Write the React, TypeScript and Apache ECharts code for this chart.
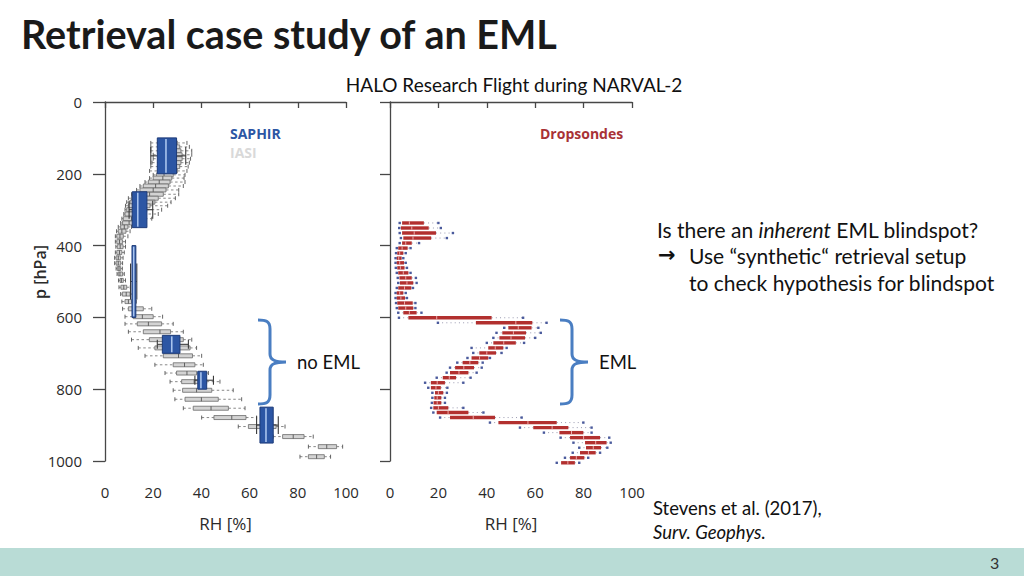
import React, { useEffect, useRef } from "react";
import * as echarts from "echarts";

// ---------- data ----------
const pressureTicks = [0, 200, 400, 600, 800, 1000];
const rhTicks = [0, 20, 40, 60, 80, 100];

// IASI (grey): [pressure hPa, whiskerLow, q1, median, q3, whiskerHigh] (RH %)
const iasiRows: number[][] = [
  [114, 19, 22, 26, 30, 34],
  [125, 19, 23, 27, 31, 35],
  [136, 19, 23, 27, 31.5, 36],
  [147, 20, 23.5, 27.5, 32, 36],
  [158, 20, 23.5, 27.5, 32, 35.5],
  [169, 19.5, 23, 27, 31.5, 35],
  [180, 19, 22.5, 26.5, 31, 34.5],
  [192, 18.5, 22, 26, 30, 34],
  [203, 20, 21.4, 24.5, 28.3, 33.2],
  [212, 18.5, 20, 24, 27.7, 32.8],
  [223, 16.6, 18, 22.5, 27, 33.2],
  [234, 14.5, 15.9, 21, 26.3, 32.5],
  [245, 13.1, 14.5, 20, 25.3, 30.6],
  [257, 11, 12.4, 18.5, 24.2, 30.6],
  [268, 9.7, 11, 16.5, 22.1, 29.2],
  [279, 9, 10.4, 15.5, 20.7, 27.4],
  [289, 8.5, 9.7, 14, 18.7, 26],
  [300, 8.3, 9, 13, 17.3, 23.5],
  [312, 7.8, 8.3, 12, 16, 22.1],
  [325, 7, 7.6, 11, 14.5, 19.4],
  [337, 6.5, 7.3, 10, 13.1, 16.6],
  [348, 5.5, 6.5, 8, 9.5, 11],
  [360, 4.8, 5.5, 7, 8.7, 10.4],
  [374, 4.3, 4.9, 6.2, 7.6, 9.5],
  [389, 4.3, 4.9, 6, 7.3, 8.5],
  [403, 4.5, 5.1, 6.3, 7.5, 8.5],
  [419, 4.3, 4.9, 6, 7, 8],
  [434, 4, 4.6, 5.5, 6.5, 7.5],
  [449, 4, 4.6, 5.5, 6.5, 7.3],
  [464, 4.6, 5.1, 5.8, 6.5, 7.2],
  [479, 5, 5.5, 6.2, 7.3, 8],
  [497, 5.6, 6.2, 6.8, 7.6, 8.5],
  [516, 5.8, 6.6, 7.8, 9, 10.5],
  [535, 6.5, 7.2, 8.8, 10.4, 12],
  [556, 7, 8.3, 9.7, 11, 13],
  [576, 7.3, 9.7, 12.5, 15.9, 19.4],
  [598, 8.3, 11.7, 15.5, 20, 23.9],
  [618, 8.3, 13.4, 18, 23.5, 28.3],
  [640, 9.7, 15.9, 22.8, 27.2, 32.5],
  [662, 11, 18.4, 25, 32.5, 36],
  [685, 13.8, 20.7, 28, 35.3, 38],
  [707, 16.6, 24.2, 30.5, 36.3, 40.1],
  [732, 20.7, 28.3, 33, 37.3, 40.8],
  [755, 24.9, 29.7, 34, 38, 42.9],
  [779, 27, 31.8, 37, 42.2, 47.7],
  [803, 28.3, 32.2, 38, 44.3, 53.2],
  [828, 29, 33.2, 40, 47, 56.7],
  [853, 32.5, 36.6, 44, 51.2, 58.1],
  [879, 40.1, 45.2, 52.6, 58.5, 62.9],
  [904, 55.3, 59.5, 65, 71, 74.7],
  [932, 69.8, 73.7, 78.1, 82.6, 86.4],
  [960, 84.4, 88.5, 92, 96.1, 98.6],
  [988, 80.9, 84.4, 87.8, 91, 93.6],
];

// SAPHIR (blue): [layer top hPa, layer bottom hPa, whiskerLow, q1, median, q3, whiskerHigh]
const saphirRows: number[][] = [
  [100, 200, 19, 21.7, 25.3, 29.7, 33.5],
  [250, 350, 10, 11.3, 13.6, 17.4, 19.8],
  [400, 600, 10.6, 11.2, 11.9, 12.8, 13.2],
  [650, 700, 21.7, 23.8, 27.7, 31.1, 34.6],
  [750, 800, 37.3, 38.5, 39.8, 42.2, 45],
  [850, 950, 62.9, 64.3, 66.8, 69.8, 71.9],
];

// Dropsondes (red): [pressure hPa, whiskerLow, q1, median, q3, whiskerHigh]
const dropsondeRows: number[][] = [
  [337, 4, 5, 8, 14, 20],
  [351, 3.8, 4.5, 9, 16, 21],
  [365, 4, 5, 10, 19, 26],
  [379, 4.5, 5.5, 9.5, 17, 23.5],
  [393, 4, 5, 6.5, 9, 12],
  [407, 2.8, 3.4, 5, 7.3, 8.5],
  [421, 2.5, 3, 4, 5.5, 6.5],
  [435, 2.3, 2.8, 3.6, 4.8, 5.5],
  [448, 2.3, 2.8, 4, 5.8, 6.5],
  [462, 2.4, 3, 4.3, 6, 7],
  [476, 2.8, 3.4, 5.5, 7.6, 8.5],
  [490, 3.2, 3.9, 6.5, 9, 10.7],
  [504, 3.4, 4.1, 7, 9.6, 11],
  [518, 2.8, 3.4, 6, 8.8, 9.5],
  [532, 2.3, 2.8, 4, 5.5, 6.5],
  [546, 2.3, 2.8, 4.5, 6.2, 7],
  [560, 2.5, 3, 6, 9.4, 10.5],
  [574, 2.8, 3.4, 6.5, 9.6, 10.5],
  [587, 3.4, 5.5, 8, 11, 13],
  [601, 3.7, 7.6, 19.3, 42, 55],
  [615, 19.8, 35.5, 52, 58.8, 64.7],
  [629, 47.2, 48.9, 53, 58.5, 61.3],
  [643, 44, 46.4, 51, 56.2, 62.3],
  [657, 42.7, 45.2, 50, 55.8, 60],
  [671, 40, 42.7, 47, 52, 55.4],
  [685, 33.7, 40.6, 43.5, 46.8, 48.2],
  [699, 34.4, 36.9, 40, 43.8, 46.1],
  [713, 32, 33.7, 37, 40.6, 41.3],
  [726, 27.8, 30, 33, 36.5, 38.3],
  [740, 24.8, 26.9, 30.5, 34.7, 37.9],
  [754, 23.4, 24.8, 28.5, 32.4, 35.8],
  [768, 19.3, 21.8, 24.5, 27.3, 33.3],
  [782, 14.5, 16.9, 19.5, 22.7, 30.3],
  [796, 15.8, 16.9, 19, 21, 23.7],
  [810, 17.5, 18.6, 20, 22, 23.5],
  [824, 17.5, 18.3, 19.5, 21.2, 22.7],
  [838, 17.3, 18, 19.5, 21.2, 22.7],
  [852, 17, 17.9, 20, 24.1, 30.3],
  [865, 17.9, 19.3, 24, 32.4, 38.6],
  [879, 20.7, 24.8, 34.4, 43.4, 54.4],
  [893, 41.3, 44.8, 57, 68.9, 79.9],
  [907, 53.7, 59.2, 67, 73.7, 83.3],
  [921, 63.6, 70, 75, 79.9, 83.3],
  [935, 70.5, 74.4, 80, 86.8, 90.6],
  [949, 75.8, 80.6, 85, 89.5, 91.2],
  [963, 78.2, 81, 84, 87.2, 89.8],
  [977, 75.5, 78.5, 82, 85, 86.8],
  [991, 72.3, 74.4, 77, 80.3, 81.9],
  [1005, 68.9, 70.7, 73.5, 76.4, 78.2],
];

const BRACE_D =
  "M0,1 C8,1 12,2 12,10 L12,35 C12,41 17,43 28,43 C17,43 12,45 12,51 L12,76 C12,84 8,85 0,85";

const FONT_AX = "Open Sans";
const FONT_BODY = "Lato";
const AXIS_COLOR = "#474747";

function renderIasi(params: any, api: any) {
  const p = api.value(0);
  const y = api.coord([0, p])[1];
  const xs = [1, 2, 3, 4, 5].map((i) => api.coord([api.value(i), p])[0]);
  const h = 4;
  const wh = { stroke: "#7a7a7a", lineWidth: 0.9, lineDash: [2.5, 2.5] };
  const cap = { stroke: "#555", lineWidth: 0.9 };
  return {
    type: "group",
    children: [
      { type: "line", shape: { x1: xs[0], y1: y, x2: xs[1], y2: y }, style: wh },
      { type: "line", shape: { x1: xs[3], y1: y, x2: xs[4], y2: y }, style: wh },
      { type: "line", shape: { x1: xs[0], y1: y - h / 2, x2: xs[0], y2: y + h / 2 }, style: cap },
      { type: "line", shape: { x1: xs[4], y1: y - h / 2, x2: xs[4], y2: y + h / 2 }, style: cap },
      {
        type: "rect",
        shape: { x: xs[1], y: y - h / 2, width: xs[3] - xs[1], height: h },
        style: { fill: "#d3d3d3", stroke: "#6a6a6a", lineWidth: 0.8 },
      },
      { type: "line", shape: { x1: xs[2], y1: y - h / 2, x2: xs[2], y2: y + h / 2 }, style: { stroke: "#555", lineWidth: 0.9 } },
    ],
  };
}

function renderSaphir(params: any, api: any) {
  const y0 = api.coord([0, api.value(0)])[1];
  const y1 = api.coord([0, api.value(1)])[1];
  const pm = (api.value(0) + api.value(1)) / 2;
  const ym = api.coord([0, pm])[1];
  const xs = [2, 3, 4, 5, 6].map((i) => api.coord([api.value(i), pm])[0]);
  const h = y1 - y0;
  const ln = { stroke: "#3a3a3a", lineWidth: 1.1 };
  return {
    type: "group",
    children: [
      { type: "line", shape: { x1: xs[0], y1: ym, x2: xs[1], y2: ym }, style: ln },
      { type: "line", shape: { x1: xs[3], y1: ym, x2: xs[4], y2: ym }, style: ln },
      { type: "line", shape: { x1: xs[0], y1: ym - h / 4, x2: xs[0], y2: ym + h / 4 }, style: ln },
      { type: "line", shape: { x1: xs[4], y1: ym - h / 4, x2: xs[4], y2: ym + h / 4 }, style: ln },
      {
        type: "rect",
        shape: { x: xs[1], y: y0, width: xs[3] - xs[1], height: h },
        style: { fill: "#2c56a4", stroke: "#1c3a78", lineWidth: 1 },
      },
      { type: "line", shape: { x1: xs[2], y1: y0 + 1, x2: xs[2], y2: y1 - 1 }, style: { stroke: "#a9c4ee", lineWidth: 1.6 } },
    ],
  };
}

function renderDrop(params: any, api: any) {
  const p = api.value(0);
  const y = api.coord([0, p])[1];
  const xs = [1, 2, 3, 4, 5].map((i) => api.coord([api.value(i), p])[0]);
  const h = 3.4;
  const wh = { stroke: "#9a9ab0", lineWidth: 1, lineDash: [1, 3.2] };
  return {
    type: "group",
    children: [
      { type: "line", shape: { x1: xs[0], y1: y, x2: xs[1], y2: y }, style: wh },
      { type: "line", shape: { x1: xs[3], y1: y, x2: xs[4], y2: y }, style: wh },
      { type: "rect", shape: { x: xs[0] - 1.2, y: y - 1.2, width: 2.4, height: 2.4 }, style: { fill: "#4a5a9c" } },
      { type: "rect", shape: { x: xs[4] - 1.2, y: y - 1.2, width: 2.4, height: 2.4 }, style: { fill: "#4a5a9c" } },
      {
        type: "rect",
        shape: { x: xs[1], y: y - h / 2, width: xs[3] - xs[1], height: h },
        style: { fill: "#b2302f" },
      },
      { type: "line", shape: { x1: xs[2], y1: y - h / 2, x2: xs[2], y2: y + h / 2 }, style: { stroke: "#f0b8b8", lineWidth: 0.9 } },
    ],
  };
}

function xAxisFor(gridIndex: number) {
  return {
    type: "value",
    gridIndex,
    min: rhTicks[0],
    max: rhTicks[rhTicks.length - 1],
    interval: 20,
    offset: 15,
    axisLine: { show: true, lineStyle: { color: AXIS_COLOR, width: 1.3 } },
    axisTick: { show: true, inside: false, length: 6, lineStyle: { color: AXIS_COLOR, width: 1.3 } },
    axisLabel: { fontFamily: FONT_AX, fontSize: 15, color: "#2a2a2a", margin: 8 },
    splitLine: { show: false },
    name: "RH [%]",
    nameLocation: "middle",
    nameGap: 39,
    nameTextStyle: { fontFamily: FONT_AX, fontSize: 17, color: "#2a2a2a" },
  };
}

function yAxisFor(gridIndex: number, showLabels: boolean, offset: number, tickLen: number) {
  return {
    type: "value",
    gridIndex,
    inverse: true,
    min: pressureTicks[0],
    max: pressureTicks[pressureTicks.length - 1],
    interval: 200,
    offset,
    axisLine: { show: true, lineStyle: { color: AXIS_COLOR, width: 1.3 } },
    axisTick: { show: true, inside: false, length: tickLen, lineStyle: { color: AXIS_COLOR, width: 1.3 } },
    axisLabel: {
      show: showLabels,
      fontFamily: FONT_AX,
      fontSize: 15,
      color: "#2a2a2a",
      margin: 15,
      formatter: (v: number) => String(v),
    },
    splitLine: { show: false },
  };
}

function txt(x: number, y: number, text: string, extra: any = {}) {
  return {
    type: "text",
    x,
    y,
    style: {
      text,
      fontFamily: FONT_BODY,
      fontSize: 19,
      fill: "#111",
      align: "left",
      verticalAlign: "middle",
      ...extra,
    },
  };
}

export default function App() {
  const ref = useRef<HTMLDivElement>(null);
  useEffect(() => {
    if (!ref.current) return;
    echarts.graphic.registerShape("brace", echarts.graphic.extendPath(BRACE_D, {}) as any);
    const chart = echarts.init(ref.current, null, { renderer: "svg" });
    const braceStyle = { stroke: "#4a7ec2", lineWidth: 3, fill: "none" };
    chart.setOption({
      animation: false,
      backgroundColor: "#ffffff",
      grid: [
        { left: 105, top: 102, width: 241, height: 359 },
        { left: 390, top: 102, width: 242, height: 359 },
      ],
      xAxis: [xAxisFor(0), xAxisFor(1)],
      yAxis: [yAxisFor(0, true, 8, 12), yAxisFor(1, false, 7, 10)],
      series: [
        {
          type: "custom",
          name: "IASI",
          xAxisIndex: 0,
          yAxisIndex: 0,
          renderItem: renderIasi,
          data: iasiRows,
          encode: { x: [1, 2, 3, 4, 5], y: 0 },
          z: 2,
        },
        {
          type: "custom",
          name: "SAPHIR",
          xAxisIndex: 0,
          yAxisIndex: 0,
          renderItem: renderSaphir,
          data: saphirRows,
          encode: { x: [2, 3, 4, 5, 6], y: [0, 1] },
          z: 3,
        },
        {
          type: "custom",
          name: "Dropsondes",
          xAxisIndex: 1,
          yAxisIndex: 1,
          renderItem: renderDrop,
          data: dropsondeRows,
          encode: { x: [1, 2, 3, 4, 5], y: 0 },
          z: 2,
        },
      ],
      graphic: [
        { type: "rect", shape: { x: 0, y: 548, width: 1024, height: 28 }, style: { fill: "#b9dcd6" } },
        txt(990, 562, "3", { fontSize: 16, fill: "#333" }),
        txt(21, 33, "Retrieval case study of an EML", { fontSize: 39.5, fontWeight: "bold", fill: "#1a1a1a" }),
        txt(514, 84, "HALO Research Flight during NARVAL-2", { align: "center", fontSize: 19 }),
        {
          type: "text",
          x: 40,
          y: 272,
          rotation: Math.PI / 2,
          style: {
            text: "p [hPa]",
            fontFamily: FONT_AX,
            fontSize: 16,
            fontWeight: 600,
            fill: "#2a2a2a",
            align: "center",
            verticalAlign: "middle",
          },
        },
        txt(230, 133, "SAPHIR", { fontFamily: FONT_AX, fontSize: 14, fontWeight: "bold", fill: "#2c56a4" }),
        txt(230, 152, "IASI", { fontFamily: FONT_AX, fontSize: 14, fontWeight: "bold", fill: "#d9d9d9" }),
        txt(540, 133, "Dropsondes", { fontFamily: FONT_AX, fontSize: 14, fontWeight: "bold", fill: "#a83236" }),
        { type: "brace", x: 258, y: 319, style: braceStyle },
        { type: "brace", x: 560, y: 319, style: braceStyle },
        txt(297, 362, "no EML", { fontSize: 18.5 }),
        txt(599, 362, "EML", { fontSize: 18.5 }),
        {
          type: "text",
          x: 657,
          y: 229,
          style: {
            text: "{a|Is there an }{i|inherent}{a| EML blindspot?}",
            verticalAlign: "middle",
            rich: {
              a: { fontFamily: FONT_BODY, fontSize: 21, fill: "#111" },
              i: { fontFamily: FONT_BODY, fontSize: 21, fill: "#111", fontStyle: "italic" },
            },
          },
        },
        txt(658, 255, "\u2192", { fontFamily: "DejaVu Sans", fontSize: 21, fontWeight: "bold" }),
        txt(689, 255, "Use \u201Csynthetic\u201C retrieval setup", { fontSize: 21 }),
        txt(689, 282, "to check hypothesis for blindspot", { fontSize: 21 }),
        txt(653, 508, "Stevens et al. (2017),", { fontSize: 18.5 }),
        txt(653, 532, "Surv. Geophys.", { fontSize: 18.5, fontStyle: "italic" }),
      ],
    });
    return () => chart.dispose();
  }, []);
  return (
    <div
      ref={ref}
      style={{ position: "fixed", left: 0, top: 0, width: 1024, height: 576 }}
    />
  );
}
